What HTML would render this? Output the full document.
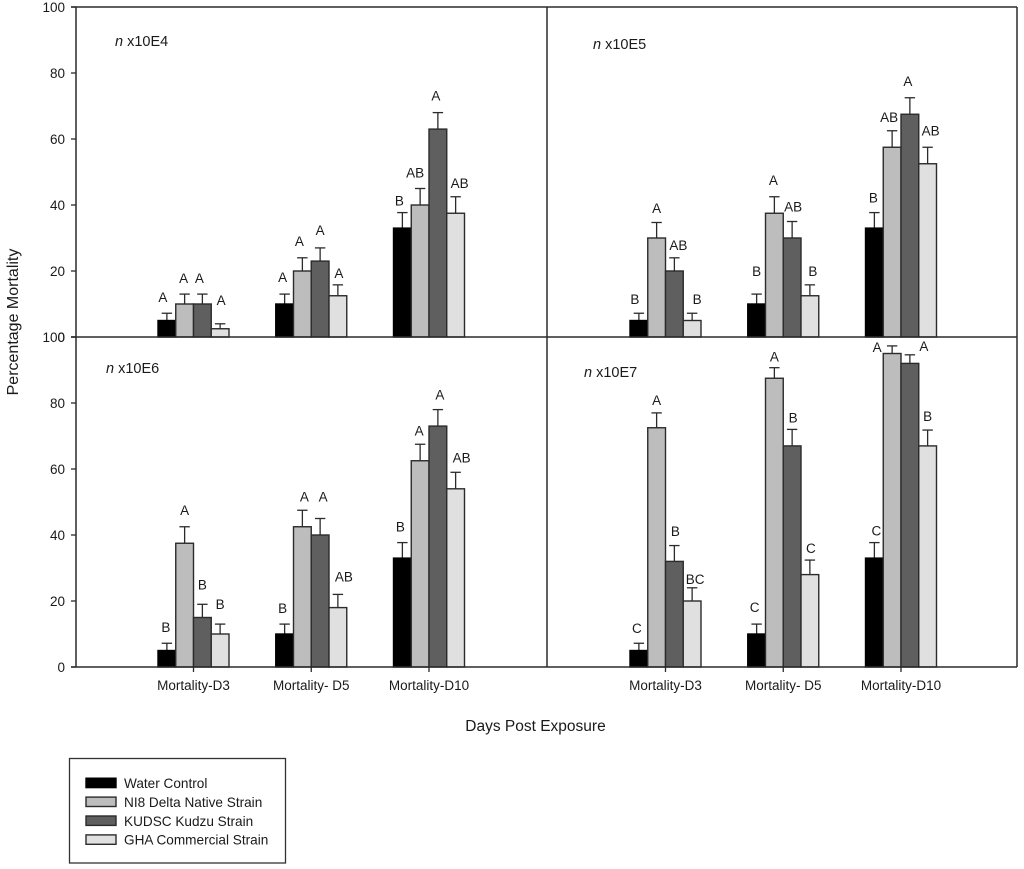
<!DOCTYPE html>
<html>
<head>
<meta charset="utf-8">
<title>Percentage Mortality by Strain</title>
<style>
html,body{margin:0;padding:0;background:#fff;width:1024px;height:869px;overflow:hidden}
svg{display:block}
text{font-family:"Liberation Sans",Arial,sans-serif;fill:#1a1a1a}
</style>
</head>
<body>
<svg id="chart" xmlns="http://www.w3.org/2000/svg" width="1024" height="869" viewBox="0 0 1024 869">
  <text x="0" y="0" font-size="16" text-anchor="middle" transform="translate(18,322) rotate(-90)">Percentage Mortality</text>
  <text x="535.5" y="731" font-size="15.5" text-anchor="middle">Days Post Exposure</text>
  <g id="legend">
    <rect x="69.5" y="758.5" width="216" height="104.5" fill="#fff" stroke="#333" stroke-width="1.3"/>
  </g>
</svg>
<script>
// ---- chart data ----
const categories = ['Mortality-D3', 'Mortality- D5', 'Mortality-D10'];
const seriesNames = ['Water Control', 'NI8 Delta Native Strain', 'KUDSC Kudzu Strain', 'GHA Commercial Strain'];
const yTicks = [0, 20, 40, 60, 80, 100];
const panelTitles = ['x10E4', 'x10E5', 'x10E6', 'x10E7'];

// rows: series, columns: categories
const e4Values = [[5, 10, 33], [10, 20, 40], [10, 23, 63], [2.5, 12.5, 37.5]];
const e4Errors = [[2.2, 3, 4.7], [3, 4, 5], [3, 4, 5], [1.5, 3.3, 5]];
const e4Letters = [['A', 'A', 'B'], ['A', 'A', 'AB'], ['A', 'A', 'A'], ['A', 'A', 'AB']];

const e5Values = [[5, 10, 33], [30, 37.5, 57.5], [20, 30, 67.5], [5, 12.5, 52.5]];
const e5Errors = [[2.2, 3, 4.7], [4.7, 5, 5], [4, 5, 5], [2.2, 3.3, 5]];
const e5Letters = [['B', 'B', 'B'], ['A', 'A', 'AB'], ['AB', 'AB', 'A'], ['B', 'B', 'AB']];

const e6Values = [[5, 10, 33], [37.5, 42.5, 62.5], [15, 40, 73], [10, 18, 54]];
const e6Errors = [[2.2, 3, 4.7], [5, 5, 5], [4, 5, 5], [3, 4, 5]];
const e6Letters = [['B', 'B', 'B'], ['A', 'A', 'A'], ['B', 'A', 'A'], ['B', 'AB', 'AB']];

const e7Values = [[5, 10, 33], [72.5, 87.5, 95], [32, 67, 92], [20, 28, 67]];
const e7Errors = [[2.2, 3, 4.7], [4.5, 3.2, 2.3], [4.8, 5, 2.6], [4, 4.4, 4.8]];
const e7Letters = [['C', 'C', 'C'], ['A', 'A', 'A'], ['B', 'B', 'A'], ['BC', 'C', 'B']];

const seriesFill = ['#000000', '#bdbdbd', '#5f5f5f', '#e0e0e0'];

// ---- layout ----
const SVGNS = 'http://www.w3.org/2000/svg';
const svg = document.getElementById('chart');
const legend = document.getElementById('legend');
const unit = 3.3, barW = 17.75, capHalf = 5.2, inkColor = '#2b2b2b';
const leftEdge = 76, midEdge = 547, rightEdge = 1017;
const panelTop = 7, panelMid = 337, panelBottom = 667;

// letter nudges (horizontal shift, gap above the error cap) per series/category
const e4Nudge = [[[-4,16],[-2,17],[-3,12]], [[-1,16],[-3,17],[-5,16]], [[-3,16],[0,18],[-2,17]], [[1,24],[1,12],[4,14]]];
const e5Nudge = [[[-4,14],[0,23],[-1,15]], [[0,14.5],[-1,17],[-3,14]], [[4,13],[1,15],[-2,17]], [[5,14],[3,14],[3,17]]];
const e6Nudge = [[[-1,16],[-2,16],[-2,16]], [[0,17],[2,14],[-1,14]], [[0,20],[3,22],[2,15]], [[0,20],[6,18],[6,15]]];
const e7Nudge = [[[-2,15],[-2,17],[2,12]], [[0,13],[0,11],[-15,-1]], [[1,14.5],[1,12],[14,9]], [[3,9],[1,12],[0,14]]];

const panels = [
  { key: 'e4', values: e4Values, errors: e4Errors, letters: e4Letters, nudge: e4Nudge, base: panelMid, left: leftEdge, cx0: 193.5, tx: 115, ty: 46, axisLabels: true, xLabels: false },
  { key: 'e5', values: e5Values, errors: e5Errors, letters: e5Letters, nudge: e5Nudge, base: panelMid, left: midEdge, cx0: 665.5, tx: 593, ty: 49, axisLabels: false, xLabels: false },
  { key: 'e6', values: e6Values, errors: e6Errors, letters: e6Letters, nudge: e6Nudge, base: panelBottom, left: leftEdge, cx0: 193.5, tx: 106, ty: 373, axisLabels: true, xLabels: true },
  { key: 'e7', values: e7Values, errors: e7Errors, letters: e7Letters, nudge: e7Nudge, base: panelBottom, left: midEdge, cx0: 665.5, tx: 584, ty: 377, axisLabels: false, xLabels: true }
];

function make(parent, tag, attrs) {
  const el = document.createElementNS(SVGNS, tag);
  for (const k in attrs) el.setAttribute(k, attrs[k]);
  parent.appendChild(el);
  return el;
}
function yScale(value, base) { return base - value * unit; }
function groupX(panel, c) { return panel.cx0 + c * 117.75; }
function barX(panel, c, s) { return groupX(panel, c) + (s - 2) * barW; }

panels.forEach(function (p, pi) {
  const g = make(svg, 'g', {});
  
  

  // bars, error bars, letters
  categories.forEach(function (cat, c) {
    seriesNames.forEach(function (name, s) {
      const v = p.values[s][c], e = p.errors[s][c];
      const x0 = barX(p, c, s), xc = x0 + barW / 2;
      const top = yScale(v, p.base), cap = yScale(v + e, p.base);

      const stem = make(g, 'line', { x1: xc, x2: xc, y1: top, y2: cap, stroke: inkColor, 'stroke-width': 1.3 });
      
      

      const capLine = make(g, 'line', { x1: xc - capHalf, x2: xc + capHalf, y1: cap, y2: cap, stroke: inkColor, 'stroke-width': 1.3 });
      
      

      const bar = make(g, 'rect', { x: x0, y: top, width: barW, height: p.base - top, fill: seriesFill[s], stroke: s === 0 ? '#000' : inkColor, 'stroke-width': 1.4 });
      
      

      const nudge = p.nudge[s][c];
      const letter = make(g, 'text', { x: xc + nudge[0], y: cap - nudge[1] + 5, 'font-size': 13.5, 'text-anchor': 'middle' });
      letter.textContent = p.letters[s][c];
      
      
    });

    if (p.xLabels) {
      const tick = make(g, 'line', { x1: groupX(p, c), x2: groupX(p, c), y1: p.base, y2: p.base + 5, stroke: inkColor, 'stroke-width': 1.3 });
      
      

      const lab = make(g, 'text', { x: groupX(p, c), y: p.base + 23, 'font-size': 13.5, 'text-anchor': 'middle' });
      lab.textContent = cat;
      
      
    }
  });

  // y ticks and labels
  if (p.axisLabels) {
    yTicks.forEach(function (t) {
      const ty = yScale(t, p.base);
      const tick = make(g, 'line', { x1: p.left - 5, x2: p.left, y1: ty, y2: ty, stroke: inkColor, 'stroke-width': 1.3 });
      
      

      const lab = make(g, 'text', { x: 65, y: ty + 5, 'font-size': 13.5, 'text-anchor': 'end' });
      lab.textContent = String(t);
      
      
    });
  }

  // panel title
  const title = make(g, 'text', { x: p.tx, y: p.ty, 'font-size': 14.5 });
  
  
  const ital = make(title, 'tspan', { 'font-style': 'italic' });
  ital.textContent = 'n';
  const rest = make(title, 'tspan', {});
  rest.textContent = ' ' + panelTitles[pi];
});

// panel frame lines
const frameLines = [
  ['frame-top', leftEdge - 5, panelTop, rightEdge, panelTop],
  ['frame-middle', leftEdge - 5, panelMid, rightEdge, panelMid],
  ['frame-bottom', leftEdge - 5, panelBottom, rightEdge, panelBottom],
  ['frame-left', leftEdge, panelTop, leftEdge, panelBottom],
  ['frame-divider', midEdge, panelTop, midEdge, panelBottom],
  ['frame-right', rightEdge, panelTop, rightEdge, panelBottom]
];
frameLines.forEach(function (f) {
  const ln = make(svg, 'line', { x1: f[1], y1: f[2], x2: f[3], y2: f[4], stroke: inkColor, 'stroke-width': 1.5 });
  
  
});

// legend entries
seriesNames.forEach(function (name, s) {
  const rowY = 783 + s * 18.9;
  const swatch = make(legend, 'rect', { x: 86, y: rowY - 4.8, width: 30, height: 9.4, fill: seriesFill[s], stroke: s === 0 ? '#000' : inkColor, 'stroke-width': 1.4 });
  
  

  const lab = make(legend, 'text', { x: 124, y: rowY + 5, 'font-size': 13.6 });
  lab.textContent = name;
  
  
});
</script>
</body>
</html>
